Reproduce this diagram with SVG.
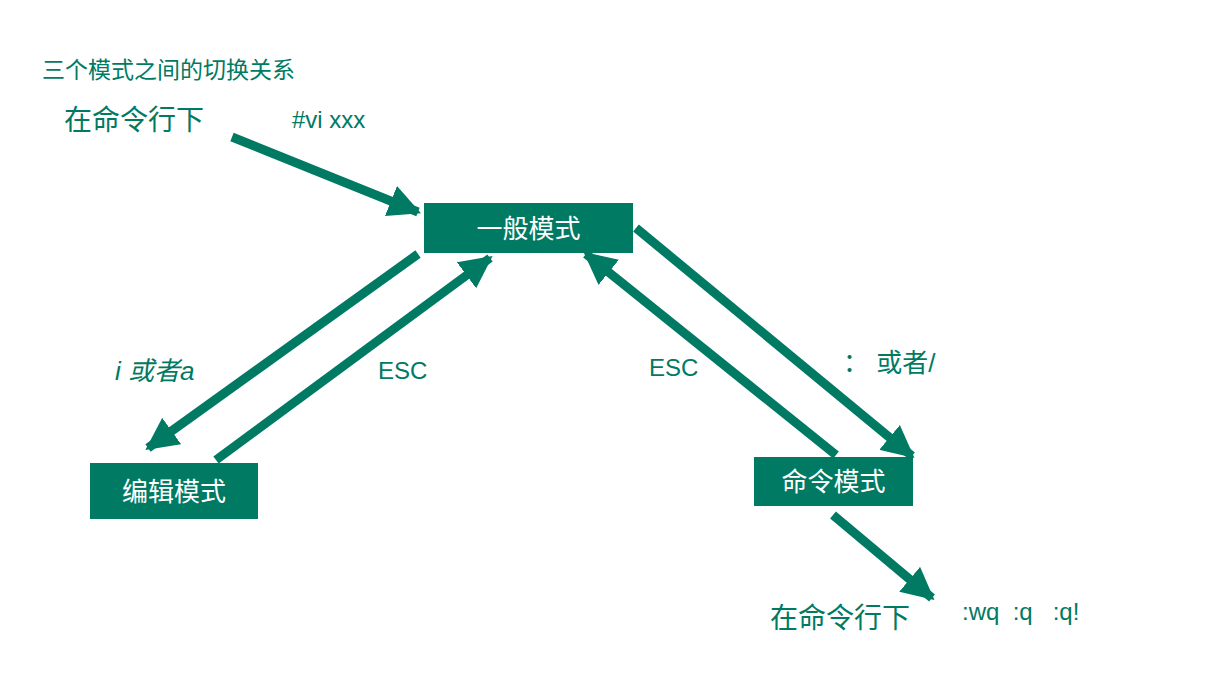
<svg xmlns="http://www.w3.org/2000/svg" width="1206" height="678" viewBox="0 0 1206 678">
<style>
text{font-family:"Liberation Sans","Noto Sans CJK SC",sans-serif;fill:#007A63}
.box rect{fill:#007A63}
.box text{fill:#fff;font-size:26px;text-anchor:middle}
.c line{stroke:#007A63;stroke-width:9;marker-end:url(#ah)}
</style>
<defs>
<marker id="ah" viewBox="0 0 10 10" refX="9" refY="5" markerWidth="3.6" markerHeight="3.6" orient="auto" markerUnits="strokeWidth">
<path d="M0,0 L10,5 L0,10 Z" fill="#007A63"/>
</marker>
</defs>
<rect width="1206" height="678" fill="#fff"/>
<text x="42" y="78" font-size="23">三个模式之间的切换关系</text>
<text x="64" y="130" font-size="28">在命令行下</text>
<text x="292" y="128" font-size="24">#vi xxx</text>
<text x="115" y="380" font-size="26" font-style="italic">i 或者a</text>
<text x="378" y="379" font-size="24">ESC</text>
<text x="649" y="376" font-size="24">ESC</text>
<text x="843" y="372" font-size="26">： 或者/</text>
<text x="770" y="628" font-size="28">在命令行下</text>
<text x="962" y="620" font-size="24" xml:space="preserve">:wq  :q   :q!</text>
<g class="c">
<line x1="232" y1="137" x2="418" y2="212"/>
<line x1="418" y1="254" x2="148" y2="448"/>
<line x1="216" y1="460" x2="490" y2="258"/>
<line x1="836" y1="455" x2="586" y2="254"/>
<line x1="636" y1="228" x2="912" y2="456"/>
<line x1="833" y1="515" x2="932" y2="598"/>
</g>
<g id="general" class="box"><rect x="424" y="203" width="209" height="50"/><text x="528.5" y="238">一般模式</text></g>
<g id="edit" class="box"><rect x="90" y="463" width="168" height="56"/><text x="174" y="501">编辑模式</text></g>
<g id="command" class="box"><rect x="754" y="457" width="159" height="49"/><text x="833.5" y="491">命令模式</text></g>
</svg>
